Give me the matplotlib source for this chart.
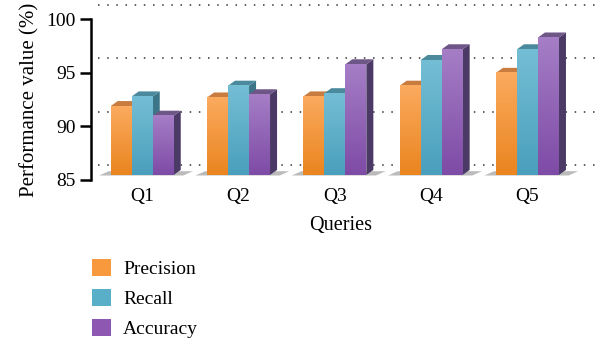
import matplotlib.pyplot as plt
import matplotlib.transforms as mtransforms
import numpy as np
from matplotlib.colors import to_rgb
from matplotlib.patches import Polygon, Patch

plt.rcParams['font.family'] = ['Liberation Serif', 'DejaVu Serif']

queries = ['Q1', 'Q2', 'Q3', 'Q4', 'Q5']
precision = [91.9, 92.7, 92.8, 93.8, 95.0]
recall = [92.8, 93.8, 93.1, 96.2, 97.2]
accuracy = [91.0, 93.0, 95.8, 97.2, 98.3]
series_names = ['Precision', 'Recall', 'Accuracy']

# front / top / side colours for the fake 3d bars
front_top = ['#FBAA5E', '#74BED5', '#A57EC6']
front_bot = ['#EA851F', '#4A9FBC', '#7E4BA6']
top_col = ['#C97C40', '#4B8A9C', '#6E5687']
side_col = ['#A85E1C', '#3C7587', '#4C3A66']
legend_col = ['#F7993C', '#58AFC7', '#8E57B1']

bar_w = 0.218
depth_x = 0.073
depth_y = 0.47
floor_lift = 0.47

fig = plt.figure(figsize=(5.96, 3.4), dpi=100)
ax = fig.add_axes([0.153, 0.4706, 0.837, 0.4726])

# back wall gridlines (shifted up/right like the 3d wall)
wall = mtransforms.offset_copy(ax.get_yaxis_transform(), fig=fig, x=7, y=14.5, units='dots')
ax.hlines([85, 90, 95, 100], 0, 1, transform=wall, colors='#333333',
          linestyles=(0, (1, 5)), linewidth=1.1, clip_on=False, zorder=0)

x = np.arange(len(queries))
data = [precision, recall, accuracy]
grad = np.linspace(0, 1, 64).reshape(-1, 1)

for xi in x:
    # floor shadow under each group
    g0 = xi - 1.5 * bar_w
    g1 = xi + 1.5 * bar_w
    b = 85 + floor_lift
    ax.add_patch(Polygon([(g0 - 0.12, b - 0.05), (g1 + 0.1, b - 0.05),
                          (g1 + 0.2, b + 0.35), (g0 - 0.02, b + 0.35)],
                         closed=True, facecolor='#555555', alpha=0.4, edgecolor='none',
                         zorder=1, clip_on=False))

for k, vals in enumerate(data):
    c0 = np.array(to_rgb(front_bot[k]))
    c1 = np.array(to_rgb(front_top[k]))
    img = c0 * (1 - grad[..., None]) + c1 * grad[..., None]
    for i, v in enumerate(vals):
        x0 = x[i] + (k - 1.5) * bar_w
        x1 = x0 + bar_w
        b = 85 + floor_lift
        z = 2 + k
        side = Polygon([(x1, b), (x1 + depth_x, b + depth_y), (x1 + depth_x, v + depth_y), (x1, v)],
                       closed=True, facecolor=side_col[k], edgecolor='none', zorder=z, clip_on=False)
        top = Polygon([(x0, v), (x0 + depth_x, v + depth_y), (x1 + depth_x, v + depth_y), (x1, v)],
                      closed=True, facecolor=top_col[k], edgecolor='none', zorder=z, clip_on=False)
        ax.add_patch(side)
        ax.add_patch(top)
        im = ax.imshow(img, extent=[x0, x1, b, v], origin='lower', aspect='auto',
                       zorder=z, interpolation='bilinear')
        im.set_clip_on(False)

ax.set_xlim(-0.53, 4.65)
ax.set_ylim(85, 100)

ax.set_xticks(x)
ax.set_xticklabels(queries, fontsize=14)
ax.tick_params(axis='x', length=0, pad=6)
ax.set_yticks([85, 90, 95, 100])
ax.tick_params(axis='y', direction='out', length=8, width=1.8, labelsize=14, pad=3)
for s in ['top', 'right', 'bottom']:
    ax.spines[s].set_visible(False)
ax.spines['left'].set_linewidth(1.8)
ax.set_xlabel('Queries', fontsize=14.5, labelpad=8)
ax.set_ylabel('Performance value (%)', fontsize=15, labelpad=5)

handles = [Patch(facecolor=c, edgecolor='none') for c in legend_col]
fig.legend(handles, series_names, loc='upper left', bbox_to_anchor=(0.141, 0.262),
           frameon=False, fontsize=14, handlelength=1.0, handleheight=1.0,
           labelspacing=0.55, handletextpad=0.6, borderaxespad=0)

fig.savefig('out.png', dpi=100)
